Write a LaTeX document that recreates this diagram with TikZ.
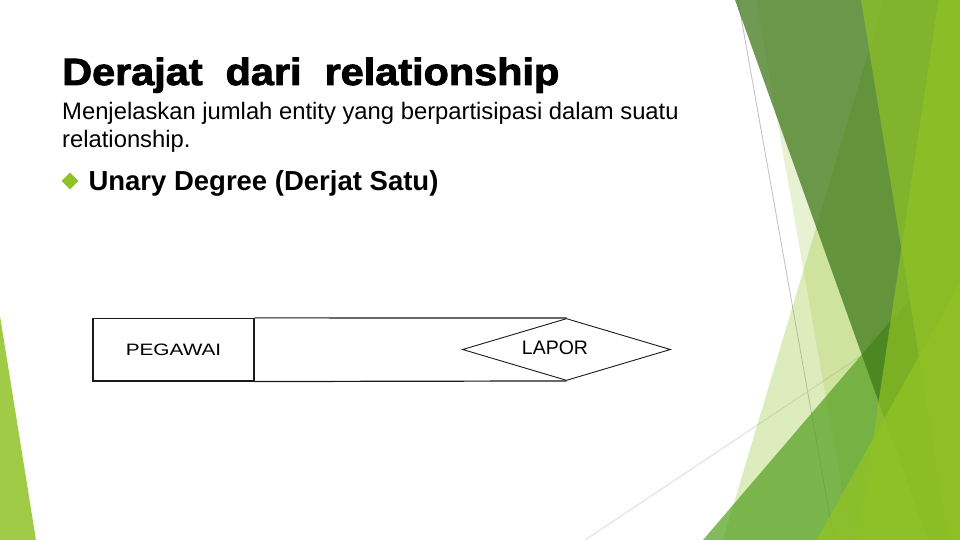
\documentclass[tikz,border=0pt]{standalone}
\usepackage{fontspec}
\setmainfont{Liberation Sans}
\setsansfont{Liberation Sans}
\newfontfamily\titlefont[BoldFeatures={FakeBold=2.2}]{Liberation Sans}
\usetikzlibrary{shapes.geometric}
\definecolor{facetGreen}{HTML}{90C226}
\definecolor{facetLeaf}{HTML}{54A021}
\definecolor{facetDeep}{RGB}{63,120,25}
\definecolor{facetRule}{HTML}{BFBFBF}
\definecolor{facetRuleLight}{HTML}{D9D9D9}
\definecolor{inkGray}{HTML}{1A1A1A}

\begin{document}
\begin{tikzpicture}[x = 1pt, y = -1pt, font=\sffamily]
	\tikzstyle{textStyle} = [inner sep = 0pt, anchor = base west, text = black]
	\tikzstyle{entityStyle} = [shape = rectangle, draw = inkGray, line width = 1.2pt, minimum width = 161pt, minimum height = 62.5pt, inner sep = 0pt]
	\tikzstyle{relationStyle} = [shape = diamond, draw = inkGray, line width = 0.9pt, minimum width = 208pt, minimum height = 62pt, inner sep = 0pt]
	\tikzstyle{linkStyle} = [draw = inkGray, line width = 1.2pt]
	\tikzstyle{bulletStyle} = [shape = diamond, fill = facetGreen, minimum width = 17pt, minimum height = 17pt, inner sep = 0pt]
	\useasboundingbox (0,0) rectangle (960,540);
	\fill[white] (0,0) rectangle (960,540);
	\draw[facetRule, line width = 0.8pt] (738,0) -- (834,540);
	\draw[facetRuleLight, line width = 0.8pt] (585,540) -- (960,290);
	\fill[facetGreen, fill opacity = 0.3] (884,0) -- (960,0) -- (960,540) -- (723,540) -- cycle;
	\fill[facetGreen, fill opacity = 0.2] (756,0) -- (960,0) -- (960,540) -- (851,540) -- cycle;
	\fill[facetLeaf, fill opacity = 0.72] (960,240) -- (960,540) -- (703,540) -- cycle;
	\fill[facetDeep, fill opacity = 0.74] (735,0) -- (960,0) -- (960,540) -- (928,540) -- cycle;
	\fill[facetGreen, fill opacity = 0.7] (938.5,0) -- (960,0) -- (960,540) -- (858,540) -- cycle;
	\fill[facetGreen, fill opacity = 0.7] (861,0) -- (960,0) -- (960,540) -- (948.7,540) -- cycle;
	\fill[facetGreen, fill opacity = 0.8] (960,282.7) -- (960,540) -- (816.7,540) -- cycle;
	\fill[facetGreen, fill opacity = 0.85] (0,316) -- (0,540) -- (36,540) -- cycle;
	\node[textStyle, font = \titlefont\bfseries\fontsize{38}{40}\selectfont] (title) at (62,85) {\scalebox{1.09}[1]{Derajat\ \ dari\ \ relationship}};
	\node[textStyle, font = \fontsize{23.8}{28}\selectfont] (descOne) at (62,120) {Menjelaskan jumlah entity yang berpartisipasi dalam suatu};
	\node[textStyle, font = \fontsize{23.8}{28}\selectfont] (descTwo) at (62,147.5) {relationship.};
	\node[bulletStyle] (bullet) at (70,181) {};
	\node[textStyle, font = \bfseries\fontsize{27.5}{30}\selectfont] (unary) at (88.3,190.5) {Unary Degree (Derjat Satu)};
	\node[entityStyle, font = \fontsize{16.5}{18}\selectfont] (pegawai) at (173.5,349.7) {\scalebox{1.26}[1]{PEGAWAI}};
	\node[relationStyle, label = {[font = \fontsize{19.5}{22}\selectfont, xshift = -11.5pt, yshift = 1.3pt]center:LAPOR}] (lapor) at (566.5,349.5) {};
	\draw[linkStyle] (pegawai.north east) -- (lapor.north);
	\draw[linkStyle] (pegawai.south east) -- (lapor.south);
\end{tikzpicture}
\end{document}
